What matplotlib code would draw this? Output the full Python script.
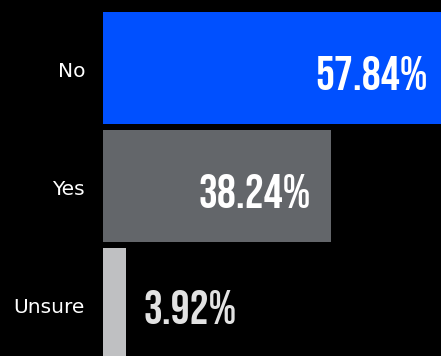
import matplotlib
matplotlib.use('Agg')
import matplotlib.pyplot as plt
from matplotlib import font_manager
from matplotlib.transforms import offset_copy

# survey answers, top to bottom
categories = ['No', 'Yes', 'Unsure']
values = [57.84, 38.24, 3.92]
bar_colors = ['#0050ff', '#63666a', '#bfc0c2']
label_colors = ['white', 'white', '#e2e2e2']

# pick a narrow bold face for the big percentages
installed = {f.name for f in font_manager.fontManager.ttflist}
num_font = 'DejaVu Sans'
for name in ['Bebas Neue', 'Oswald', 'Roboto Condensed', 'Liberation Sans Narrow']:
    if name in installed:
        num_font = name
        break

fig = plt.figure(figsize=(4.41, 3.56), dpi=100, facecolor='black')
ax = fig.add_axes([103 / 441, 0, 1 - 103 / 441, 1])
ax.set_facecolor('black')

ypos = list(range(len(categories)))
ax.barh(ypos, values, height=0.947, color=bar_colors, linewidth=0)

ax.set_xlim(0, 56.7)
ax.set_ylim(2.442, -0.575)
ax.axis('off')

for y, cat, val, col in zip(ypos, categories, values, label_colors):
    # category name left of the bar
    tr = offset_copy(ax.transData, fig=fig, x=-18, y=-9.5, units='dots')
    ax.text(0, y, cat, transform=tr, ha='right', va='baseline',
            color='white', fontsize=14.5, family='DejaVu Sans', clip_on=False)

    # percentage inside the bar, or just after it when the bar is short
    if val > 10:
        tr = offset_copy(ax.transData, fig=fig, x=-20, y=-22, units='dots')
        ha = 'right'
    else:
        tr = offset_copy(ax.transData, fig=fig, x=17, y=-20.5, units='dots')
        ha = 'left'
    ax.text(val, y, f'{val:.2f}%', transform=tr, ha=ha, va='baseline',
            color=col, fontsize=34, family=num_font, fontweight='bold',
            fontstretch='condensed', clip_on=False)

fig.savefig('out.png', dpi=100, facecolor='black')
